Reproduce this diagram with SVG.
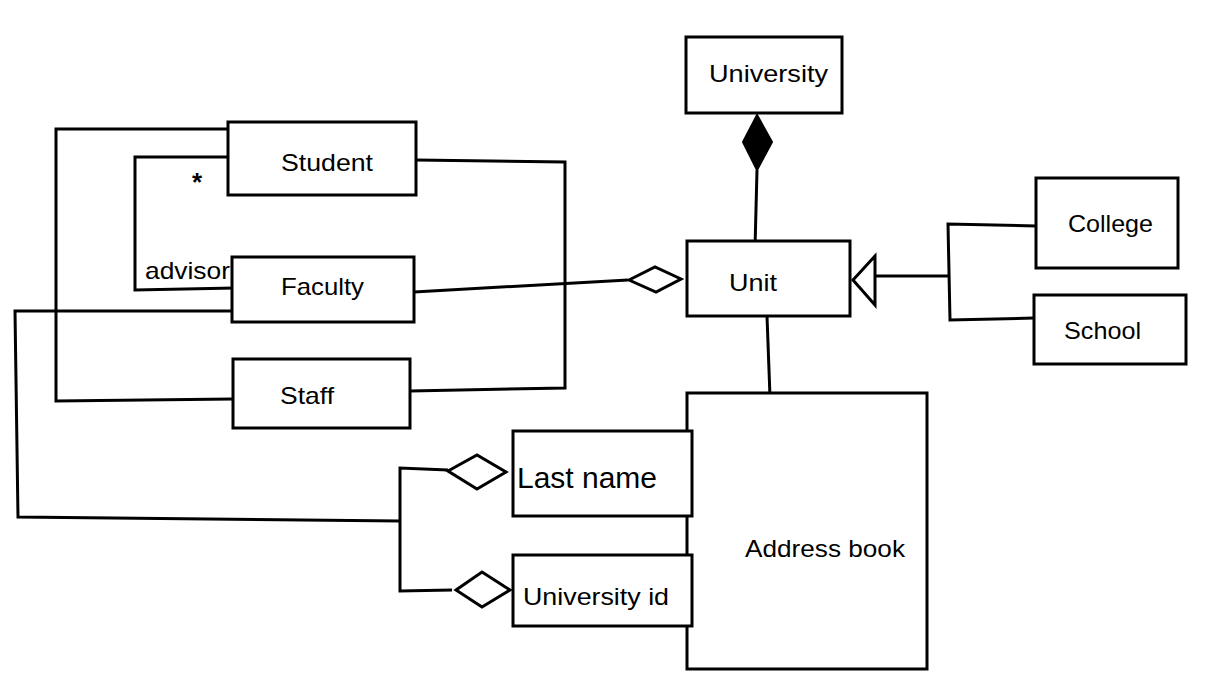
<svg xmlns="http://www.w3.org/2000/svg" width="1214" height="698" viewBox="0 0 1214 698">
<style>
.box{fill:#fff;stroke:#000;stroke-width:3}
.ln{fill:none;stroke:#000;stroke-width:3}
.hd{fill:#fff;stroke:#000;stroke-width:3}
.fd{fill:#000;stroke:#000;stroke-width:2}
text{font-family:"Liberation Sans",Arial,sans-serif;font-size:24px;fill:#000}
</style>
<rect width="1214" height="698" fill="#fff"/>
<g id="connectors">
<polyline class="ln" points="228,129 56,129 56,401 233,399"/>
<polyline class="ln" points="228,157 135,157 135,290 235,288"/>
<polyline class="ln" points="235,311 15,311 18,517 400,521"/>
<polyline class="ln" points="448,470 400,468 400,591 452,590"/>
<polyline class="ln" points="416,160 565,162 565,388 410,391"/>
<polyline class="ln" points="414,292 628,280"/>
<polyline class="ln" points="757,170 755,248"/>
<polyline class="ln" points="767,316 770,397"/>
<polyline class="ln" points="875,276 948,276"/>
<polyline class="ln" points="1036,226 948,224 950,320 1034,318"/>
<polygon class="hd" points="448,471 477,455 506,472 477,489"/>
<polygon class="hd" points="456,590 482,572 510,590 482,607"/>
<polygon class="hd" points="629,280 655,267 681,279 656,292"/>
<polygon class="fd" points="757,115 772,142 757,170 743,142"/>
<polygon class="hd" points="853,280 875,256 875,305"/>
<text x="192" y="191" style="font-weight:bold;font-size:26px">*</text>
<text x="145" y="279" textLength="85" lengthAdjust="spacingAndGlyphs">advisor</text>
</g>
<g id="university"><rect class="box" x="686" y="37" width="156" height="76"/><text x="709" y="82" textLength="119" lengthAdjust="spacingAndGlyphs">University</text></g>
<g id="student"><rect class="box" x="228" y="122" width="188" height="73"/><text x="281" y="171" textLength="92" lengthAdjust="spacingAndGlyphs">Student</text></g>
<g id="faculty"><rect class="box" x="232" y="257" width="182" height="65"/><text x="281" y="295" textLength="83" lengthAdjust="spacingAndGlyphs">Faculty</text></g>
<g id="staff"><rect class="box" x="233" y="359" width="177" height="69"/><text x="280" y="404" textLength="54" lengthAdjust="spacingAndGlyphs">Staff</text></g>
<g id="unit"><rect class="box" x="687" y="241" width="163" height="75"/><text x="729" y="291" textLength="48" lengthAdjust="spacingAndGlyphs">Unit</text></g>
<g id="college"><rect class="box" x="1036" y="178" width="142" height="90"/><text x="1068" y="232" textLength="85" lengthAdjust="spacingAndGlyphs">College</text></g>
<g id="school"><rect class="box" x="1034" y="295" width="152" height="69"/><text x="1064" y="339" textLength="77" lengthAdjust="spacingAndGlyphs">School</text></g>
<g id="addressbook"><rect class="box" x="687" y="393" width="240" height="276"/><text x="745" y="557" textLength="160" lengthAdjust="spacingAndGlyphs">Address book</text></g>
<g id="lastname"><rect class="box" x="513" y="431" width="179" height="85"/><text x="517" y="488" style="font-size:29px" textLength="140" lengthAdjust="spacingAndGlyphs">Last name</text></g>
<g id="universityid"><rect class="box" x="513" y="555" width="179" height="71"/><text x="523" y="605" textLength="146" lengthAdjust="spacingAndGlyphs">University id</text></g>
</svg>
